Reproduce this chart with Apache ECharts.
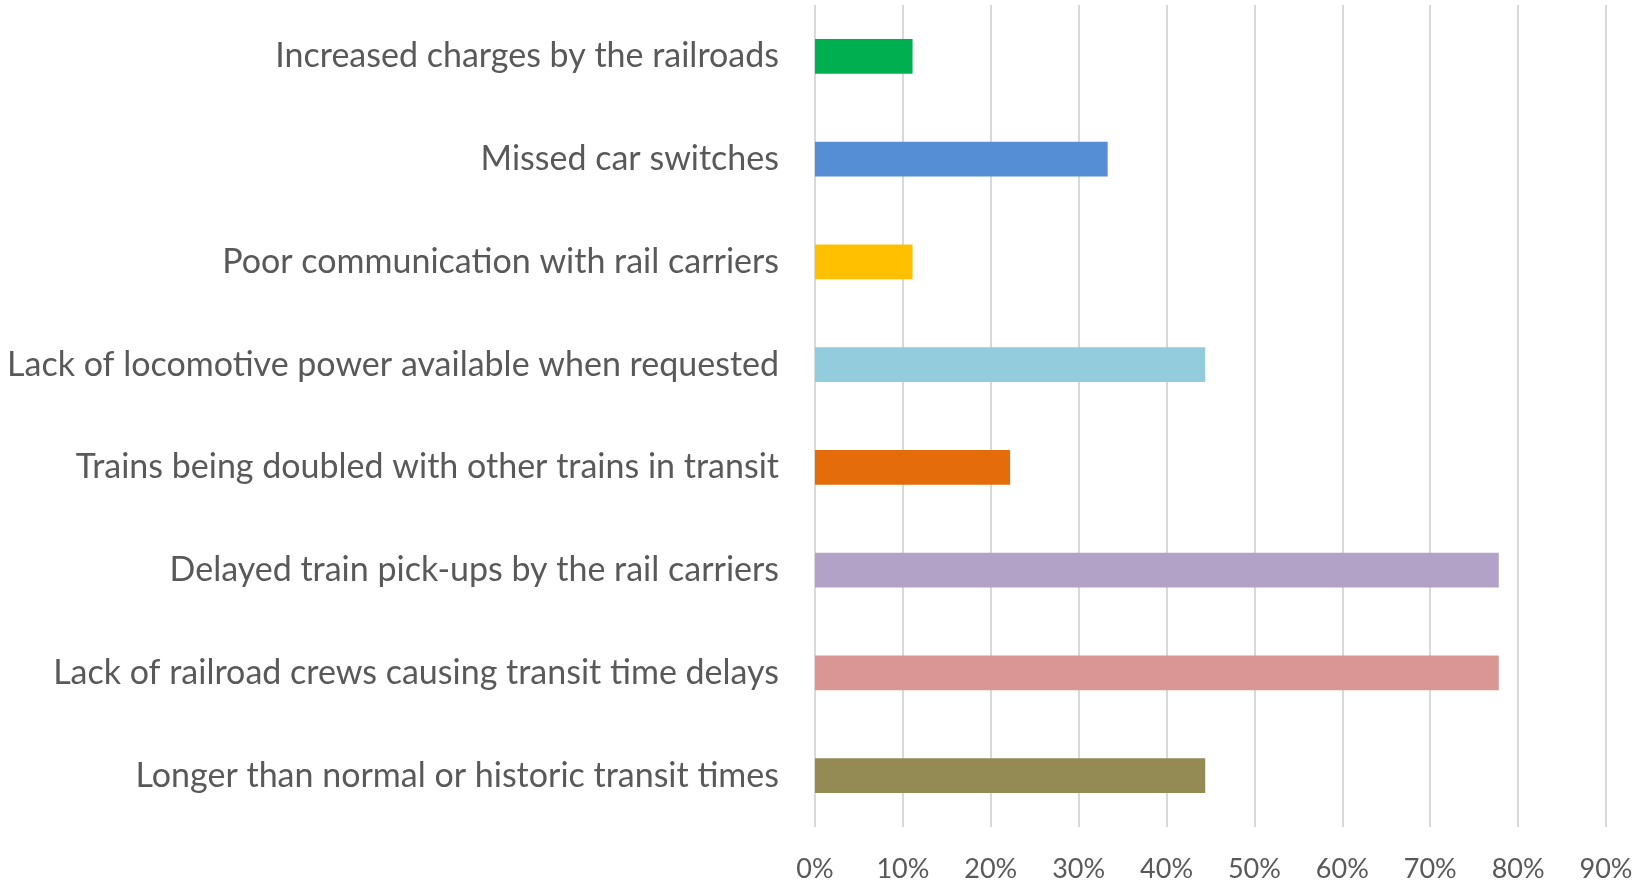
<!DOCTYPE html>
<html>
<head>
<meta charset="utf-8">
<script src="https://cdn.jsdelivr.net/npm/echarts@6/dist/echarts.min.js"></script>
<style>
html,body{margin:0;padding:0;background:#fff;}
#chart{width:1640px;height:885px;}
</style>
</head>
<body>
<div id="chart"></div>
<script>
// Categories listed top to bottom
const categories = [
  "Increased charges by the railroads",
  "Missed car switches",
  "Poor communication with rail carriers",
  "Lack of locomotive power available when requested",
  "Trains being doubled with other trains in transit",
  "Delayed train pick-ups by the rail carriers",
  "Lack of railroad crews causing transit time delays",
  "Longer than normal or historic transit times"
];
const shares = [0.111, 0.333, 0.111, 0.444, 0.222, 0.778, 0.778, 0.444];
const tickValues = [0, 0.1, 0.2, 0.3, 0.4, 0.5, 0.6, 0.7, 0.8, 0.9];

const barColors = ["#00B050", "#558ED5", "#FFC000", "#93CDDD", "#E46C0A", "#B3A2C7", "#D99694", "#948A54"];
const FONT = "Lato, 'Open Sans', sans-serif";

const chart = echarts.init(document.getElementById('chart'), null, {renderer: 'canvas'});
chart.setOption({
  backgroundColor: '#ffffff',
  animation: false,
  grid: {left: 815, right: 34, top: 5, bottom: 58, containLabel: false},
  xAxis: {
    type: 'value',
    min: tickValues[0],
    max: tickValues[tickValues.length - 1],
    interval: 0.1,
    axisLine: {show: false},
    axisTick: {show: false},
    splitLine: {show: true, lineStyle: {color: '#d9d9d9', width: 2}},
    axisLabel: {
      color: '#595959', fontFamily: FONT, fontSize: 27, margin: 29,
      formatter: v => Math.round(v * 100) + '%'
    }
  },
  yAxis: {
    type: 'category',
    inverse: true,
    data: categories,
    axisLine: {show: false},
    axisTick: {show: false},
    axisLabel: {color: '#595959', fontFamily: FONT, fontSize: 34, margin: 36}
  },
  series: [{
    type: 'bar',
    barWidth: '34%',
    data: shares.map((v, i) => ({value: v, itemStyle: {color: barColors[i]}}))
  }]
});
</script>
</body>
</html>
